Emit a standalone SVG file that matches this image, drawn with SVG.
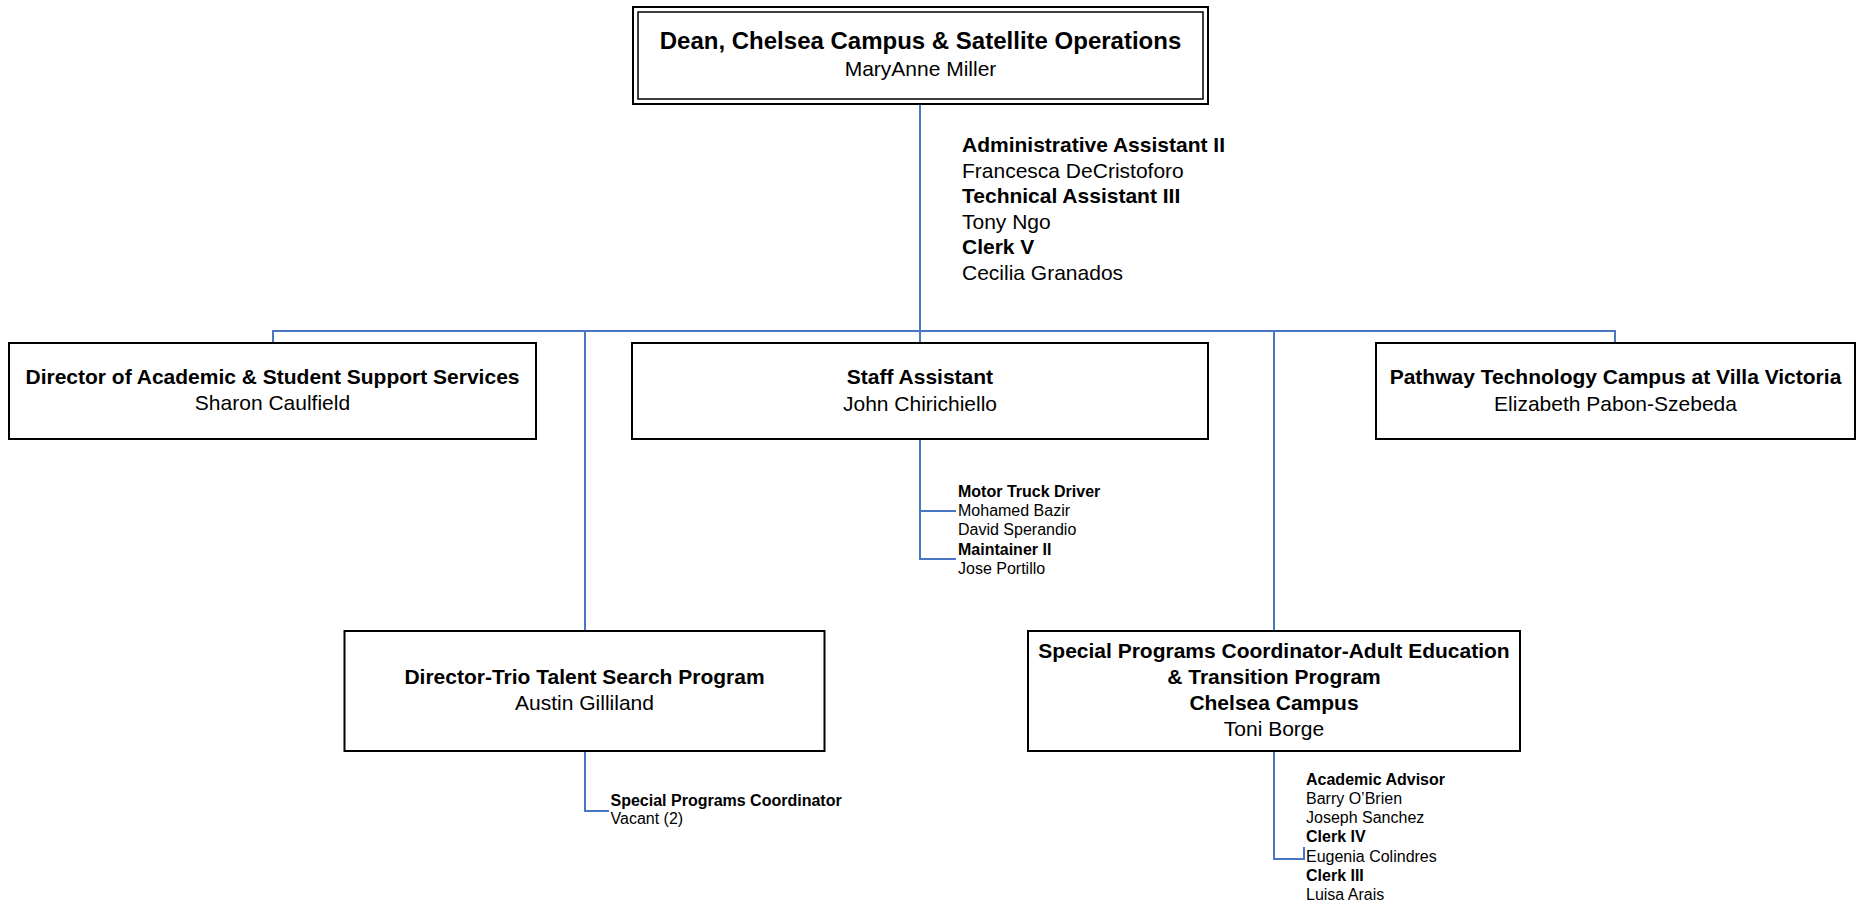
<svg xmlns="http://www.w3.org/2000/svg" width="1860" height="904" viewBox="0 0 1860 904">
<style>
text{font-family:"Liberation Sans",Arial,sans-serif;fill:#000}
.t{font-weight:bold;font-size:21px;text-anchor:middle}
.n{font-size:21px;text-anchor:middle}
.b{fill:#fff;stroke:#000;stroke-width:2}
.c{fill:none;stroke:#4a77c4;stroke-width:2}
.sb{font-weight:bold;font-size:16px}
.sn{font-size:16px}
.ab{font-weight:bold;font-size:21px}
.an{font-size:21px}
</style>
<rect width="1860" height="904" fill="#fff"/>
<g id="connectors">
<path class="c" d="M920,104 V343"/>
<path class="c" d="M273,343 V331 H1615 V343"/>
<path class="c" d="M585,331 V631"/>
<path class="c" d="M1274,331 V631"/>
<path class="c" d="M920,439 V559 H956 M920,511 H956"/>
<path class="c" d="M585,751 V811 H609"/>
<path class="c" d="M1274,751 V859 H1304 V847"/>
</g>
<g id="dean">
<rect class="b" x="633" y="7" width="575" height="97"/>
<rect fill="none" stroke="#000" stroke-width="1.5" x="638" y="12" width="565" height="87"/>
<text class="t" x="920.5" y="49" style="font-size:24px">Dean, Chelsea Campus &amp; Satellite Operations</text>
<text class="n" x="920.5" y="76">MaryAnne Miller</text>
</g>
<g id="dean-staff">
<text class="ab" x="962" y="152">Administrative Assistant II</text>
<text class="an" x="962" y="177.5">Francesca DeCristoforo</text>
<text class="ab" x="962" y="203">Technical Assistant III</text>
<text class="an" x="962" y="228.5">Tony Ngo</text>
<text class="ab" x="962" y="254">Clerk V</text>
<text class="an" x="962" y="279.5">Cecilia Granados</text>
</g>
<g id="director-academic">
<rect class="b" x="9" y="343" width="527" height="96"/>
<text class="t" x="272.5" y="384">Director of Academic &amp; Student Support Services</text>
<text class="n" x="272.5" y="410">Sharon Caulfield</text>
</g>
<g id="staff-assistant">
<rect class="b" x="632" y="343" width="576" height="96"/>
<text class="t" x="920" y="384">Staff Assistant</text>
<text class="n" x="920" y="411">John Chirichiello</text>
</g>
<g id="staff-assistant-team">
<text class="sb" x="958" y="497">Motor Truck Driver</text>
<text class="sn" x="958" y="516">Mohamed Bazir</text>
<text class="sn" x="958" y="535">David Sperandio</text>
<text class="sb" x="958" y="555">Maintainer II</text>
<text class="sn" x="958" y="574">Jose Portillo</text>
</g>
<g id="pathway">
<rect class="b" x="1376" y="343" width="479" height="96"/>
<text class="t" x="1615.5" y="384">Pathway Technology Campus at Villa Victoria</text>
<text class="n" x="1615.5" y="411">Elizabeth Pabon-Szebeda</text>
</g>
<g id="trio">
<rect class="b" x="344.5" y="631" width="480" height="120"/>
<text class="t" x="584.5" y="684">Director-Trio Talent Search Program</text>
<text class="n" x="584.5" y="710">Austin Gilliland</text>
</g>
<g id="trio-team">
<text class="sb" x="610.5" y="806">Special Programs Coordinator</text>
<text class="sn" x="610.5" y="824">Vacant (2)</text>
</g>
<g id="adult-ed">
<rect class="b" x="1028" y="631" width="492" height="120"/>
<text class="t" x="1274" y="658">Special Programs Coordinator-Adult Education</text>
<text class="t" x="1274" y="684">&amp; Transition Program</text>
<text class="t" x="1274" y="710">Chelsea Campus</text>
<text class="n" x="1274" y="736">Toni Borge</text>
</g>
<g id="adult-ed-team">
<text class="sb" x="1306" y="785">Academic Advisor</text>
<text class="sn" x="1306" y="804">Barry O’Brien</text>
<text class="sn" x="1306" y="823">Joseph Sanchez</text>
<text class="sb" x="1306" y="842">Clerk IV</text>
<text class="sn" x="1306" y="862">Eugenia Colindres</text>
<text class="sb" x="1306" y="881">Clerk III</text>
<text class="sn" x="1306" y="900">Luisa Arais</text>
</g>
</svg>
